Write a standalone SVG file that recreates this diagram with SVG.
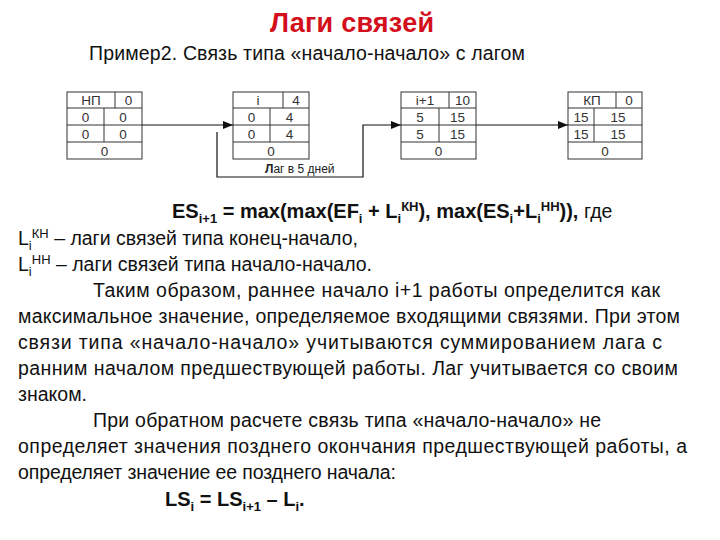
<svg xmlns="http://www.w3.org/2000/svg" width="720" height="540" viewBox="0 0 720 540">
<style>
.box{fill:#fff;stroke:#333;stroke-width:1}
.div{stroke:#333;stroke-width:1;fill:none}
.bt{font-family:"Liberation Sans",Arial,sans-serif;font-size:13.5px;fill:#333;text-anchor:middle}
.con{stroke:#111;stroke-width:1.2;fill:none}
.body{font-family:"Liberation Sans",Arial,sans-serif;font-size:19.5px;fill:#111}
.f{font-family:"Liberation Sans",Arial,sans-serif;font-size:20px;font-weight:bold;fill:#111}
.s{font-size:13px}
.t{font-family:"Liberation Sans",Arial,sans-serif;font-size:27px;font-weight:bold;fill:#d40f1c}
.lab{font-family:"Liberation Sans",Arial,sans-serif;font-size:12px;fill:#222}
</style>
<defs>
<marker id="ah" viewBox="0 0 10 8" refX="10" refY="4" markerWidth="10" markerHeight="8" markerUnits="userSpaceOnUse" orient="auto">
<path d="M0,0 L10,4 L0,8 Z" fill="#111"/>
</marker>
</defs>
<rect width="720" height="540" fill="#fff"/>
<text class="t" x="352" y="32" text-anchor="middle" textLength="164">Лаги связей</text>
<text class="body" x="89" y="60" textLength="436">Пример2. Связь типа «начало-начало» с лагом</text>

<g id="node-np">
<rect class="box" x="67" y="92" width="75" height="67"/>
<path class="div" d="M67 108H142M67 125H142M67 142H142M115 92V108M104 108V142"/>
<text class="bt" x="91" y="105">НП</text><text class="bt" x="128.5" y="105">0</text>
<text class="bt" x="85.5" y="122">0</text><text class="bt" x="123" y="122">0</text>
<text class="bt" x="85.5" y="139">0</text><text class="bt" x="123" y="139">0</text>
<text class="bt" x="104.5" y="156">0</text>
</g>
<g id="node-i">
<rect class="box" x="233" y="92" width="76" height="67"/>
<path class="div" d="M233 108H309M233 125H309M233 142H309M283 92V108M270 108V142"/>
<text class="bt" x="258" y="105">i</text><text class="bt" x="296" y="105">4</text>
<text class="bt" x="251.5" y="122">0</text><text class="bt" x="289.5" y="122">4</text>
<text class="bt" x="251.5" y="139">0</text><text class="bt" x="289.5" y="139">4</text>
<text class="bt" x="271" y="156">0</text>
</g>
<g id="node-i1">
<rect class="box" x="401" y="92" width="75" height="67"/>
<path class="div" d="M401 108H476M401 125H476M401 142H476M449 92V108M439 108V142"/>
<text class="bt" x="425" y="105">i+1</text><text class="bt" x="462.5" y="105">10</text>
<text class="bt" x="420" y="122">5</text><text class="bt" x="457.5" y="122">15</text>
<text class="bt" x="420" y="139">5</text><text class="bt" x="457.5" y="139">15</text>
<text class="bt" x="438.5" y="156">0</text>
</g>
<g id="node-kp">
<rect class="box" x="568" y="92" width="74" height="67"/>
<path class="div" d="M568 108H642M568 125H642M568 142H642M616 92V108M594 108V142"/>
<text class="bt" x="592" y="105">КП</text><text class="bt" x="629" y="105">0</text>
<text class="bt" x="581" y="122">15</text><text class="bt" x="618" y="122">15</text>
<text class="bt" x="581" y="139">15</text><text class="bt" x="618" y="139">15</text>
<text class="bt" x="605" y="156">0</text>
</g>

<g id="connectors">
<path class="con" d="M142 125H233" marker-end="url(#ah)"/>
<path class="con" d="M217 132V177H363V125H401" marker-end="url(#ah)"/>
<path class="con" d="M476 125H568" marker-end="url(#ah)"/>
<text class="lab" x="265" y="173"><tspan font-weight="bold">Л</tspan>аг в 5 дней</text>
</g>

<text class="f" x="172" y="218">ES<tspan class="s" dy="5">i+1</tspan><tspan dy="-5"> = max(max(EF</tspan><tspan class="s" dy="5">i</tspan><tspan dy="-5"> + L</tspan><tspan class="s" dy="5">i</tspan><tspan class="s" dy="-12">КН</tspan><tspan dy="7">), max(ES</tspan><tspan class="s" dy="5">i</tspan><tspan dy="-5">+L</tspan><tspan class="s" dy="5">i</tspan><tspan class="s" dy="-12">НН</tspan><tspan dy="7">)),   </tspan><tspan font-weight="normal" font-size="19.5">где</tspan></text>

<text class="body" x="18" y="245" font-size="20">L<tspan class="s" dy="5">i</tspan><tspan class="s" dy="-12">КН</tspan><tspan dy="7"> – лаги связей типа конец-начало,</tspan></text>
<text class="body" x="18" y="271" font-size="20">L<tspan class="s" dy="5">i</tspan><tspan class="s" dy="-12">НН</tspan><tspan dy="7"> – лаги связей типа начало-начало.</tspan></text>
<text class="body" x="93" y="297" textLength="567">Таким образом, раннее начало i+1 работы определится как</text>
<text class="body" x="18" y="323" textLength="662">максимальное значение, определяемое входящими связями. При этом</text>
<text class="body" x="18" y="349" textLength="644">связи типа «начало-начало» учитываются суммированием лага с</text>
<text class="body" x="18" y="375" textLength="660">ранним началом предшествующей работы. Лаг учитывается со своим</text>
<text class="body" x="18" y="401">знаком.</text>
<text class="body" x="93" y="427" textLength="508">При обратном расчете связь типа «начало-начало» не</text>
<text class="body" x="18" y="453" textLength="669">определяет значения позднего окончания предшествующей работы, а</text>
<text class="body" x="18" y="479" textLength="378">определяет значение ее позднего начала:</text>
<text class="f" x="165" y="506">LS<tspan class="s" dy="5">i</tspan><tspan dy="-5"> = LS</tspan><tspan class="s" dy="5">i+1</tspan><tspan dy="-5"> – L</tspan><tspan class="s" dy="5">i</tspan><tspan dy="-5">.</tspan></text>
</svg>
